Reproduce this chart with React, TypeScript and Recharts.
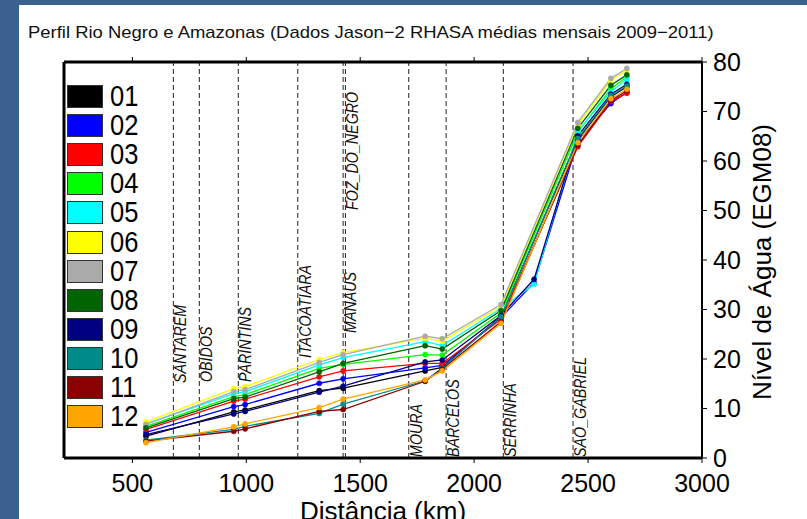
import { LineChart, Line, XAxis, YAxis, ReferenceLine } from "recharts";

// distance along the river (km) where the altimetry stations sit
const distances = [560, 945, 995, 1320, 1425, 1785, 1860, 2118, 2263, 2455, 2600, 2670];

const months = ["01", "02", "03", "04", "05", "06", "07", "08", "09", "10", "11", "12"];
const colors = [
  "#000000", "#0000ff", "#ff0000", "#00ff00", "#00ffff", "#ffff00",
  "#aaaaaa", "#006400", "#000080", "#008b8b", "#8b0000", "#ffa500",
];

// monthly mean water level (m, EGM08); null = no station value
const m01 = [4.4, 9.3, 9.7, 13.6, 14.1, 17.6, 18.3, 28.6, null, 64.3, 73.0, 75.0];
const m02 = [5.2, 10.4, 10.8, 15.1, 16.0, 18.2, 18.7, 28.4, 35.4, 64.0, 71.6, 73.9];
const m03 = [5.8, 11.5, 11.9, 16.4, 17.6, 19.1, 19.1, 28.0, null, 62.9, 72.0, 73.7];
const m04 = [6.4, 12.4, 12.8, 18.1, 18.9, 20.9, 20.8, 29.3, null, 65.8, 74.6, 77.0];
const m05 = [6.9, 13.0, 13.4, 18.8, 20.3, 23.5, 22.7, 30.2, 35.1, 66.0, 74.0, 76.5];
const m06 = [7.3, 14.0, 14.4, 19.9, 21.3, 24.2, 23.6, 30.6, null, 67.3, 76.3, 78.3];
const m07 = [6.8, 13.4, 13.8, 19.3, 20.9, 24.6, 24.1, 31.0, null, 67.8, 76.7, 78.7];
const m08 = [6.1, 12.0, 12.3, 17.4, 19.1, 22.7, 22.0, 29.8, null, 66.6, 75.3, 77.4];
const m09 = [4.7, 8.9, 9.4, 13.3, 14.5, 19.4, 19.8, 28.8, 36.1, 65.1, 73.5, 75.5];
const m10 = [3.6, 5.8, 6.4, 9.0, 10.9, 15.6, 18.2, 28.5, null, 64.6, 73.2, 75.2];
const m11 = [3.4, 5.4, 5.9, 9.4, 9.8, 15.5, 18.0, 27.5, null, 63.2, 72.2, 74.2];
const m12 = [3.1, 6.3, 6.9, 10.2, 11.9, 15.8, 17.6, 27.2, null, 63.7, 72.6, 74.5];
const levels = [m01, m02, m03, m04, m05, m06, m07, m08, m09, m10, m11, m12];

const cities = ["SANTAREM", "OBIDOS", "PARINTINS", "ITACOATIARA", "MANAUS", "FOZ_DO_NEGRO", "MOURA", "BARCELOS", "SERRINHA", "SAO_GABRIEL"];
const cityKm = [680, 794, 965, 1226, 1425, 1435, 1713, 1877, 2128, 2434];
// how far above the x axis each rotated name starts (px)
const cityLift = [75, 76, 76, 100, 125, 248, 1, 1, 1, 1];

const xTicks = [500, 1000, 1500, 2000, 2500, 3000];
const yTicks = [0, 10, 20, 30, 40, 50, 60, 70, 80];

const data = distances.map((km, i) => {
  const row: Record<string, number | null> = { km };
  months.forEach((m, j) => (row[m] = levels[j][i]));
  return row;
});

const sans = "'Liberation Sans', Arial, sans-serif";

function CityLabel(props: any) {
  const { viewBox, name, lift } = props;
  const x = viewBox.x + 13;
  const y = viewBox.y + viewBox.height - lift;
  return (
    <text
      x={0}
      y={0}
      transform={`translate(${x} ${y}) rotate(-90) scale(0.84 1)`}
      fontSize={17}
      fontStyle="italic"
      fontFamily={sans}
      fill="#111"
    >
      {name}
    </text>
  );
}

const noTick = () => <g />;

export default function App() {
  return (
    <div style={{ position: "fixed", left: 0, top: 0, width: 807, height: 519, background: "#3a6190", overflow: "hidden" }}>
      <div style={{ position: "absolute", left: 19, top: 5, width: 788, height: 514, background: "#fff" }} />
      <div
        style={{
          position: "absolute", left: 28, top: 23, fontFamily: sans, fontSize: 17, color: "#111",
          whiteSpace: "nowrap", transform: "scaleX(1.085)", transformOrigin: "left top",
        }}
      >
        Perfil Rio Negro e Amazonas (Dados Jason−2 RHASA médias mensais 2009−2011)
      </div>
      <div style={{ position: "absolute", left: 0, top: 0 }}>
        <LineChart width={807} height={519} data={data} margin={{ top: 57, right: 15, bottom: 16, left: 59 }}>
          <XAxis
            xAxisId="b" dataKey="km" type="number" domain={[200, 3000]} ticks={xTicks}
            height={45} tickSize={5} tickMargin={11}
            axisLine={{ stroke: "#000", strokeWidth: 3 }} tickLine={{ stroke: "#000" }}
            tick={{ fontSize: 25, fill: "#000", fontFamily: sans }} interval={0}
          />
          <XAxis
            xAxisId="t" dataKey="km" type="number" domain={[200, 3000]} ticks={xTicks}
            orientation="top" height={5} tickSize={5}
            axisLine={{ stroke: "#000", strokeWidth: 3 }} tickLine={{ stroke: "#000" }} tick={noTick}
          />
          <YAxis
            yAxisId="r" orientation="right" domain={[0, 80]} ticks={yTicks} width={90}
            tickSize={5} tickMargin={6} interval={0}
            axisLine={{ stroke: "#000", strokeWidth: 2 }} tickLine={{ stroke: "#000" }}
            tick={{ fontSize: 25, fill: "#000", fontFamily: sans, textAnchor: "start" }}
          />
          <YAxis
            yAxisId="l" orientation="left" domain={[0, 80]} ticks={yTicks} width={5} tickSize={5}
            axisLine={{ stroke: "#000", strokeWidth: 3 }} tickLine={{ stroke: "#000" }} tick={noTick}
          />
          {cities.map((c, i) => (
            <ReferenceLine
              key={c} xAxisId="b" yAxisId="r" x={cityKm[i]}
              stroke="#222" strokeWidth={1} strokeDasharray="5 3"
              label={<CityLabel name={c} lift={cityLift[i]} />}
            />
          ))}
          {months.map((m, i) => (
            <Line
              key={m} xAxisId="b" yAxisId="r" dataKey={m} stroke={colors[i]} strokeWidth={1.3}
              dot={{ r: 2.6, fill: colors[i], stroke: colors[i], strokeWidth: 0.5 }}
              activeDot={false} connectNulls isAnimationActive={false}
            />
          ))}
        </LineChart>
      </div>
      {months.map((m, i) => (
        <div key={m} style={{ position: "absolute", left: 67, top: 85 + i * 29.1, height: 23, display: "flex", alignItems: "center" }}>
          <div style={{ width: 34, height: 21, background: colors[i], border: "1px solid #333" }} />
          <span
            style={{
              display: "inline-block", marginLeft: 7, fontFamily: sans, fontSize: 29, color: "#000",
              lineHeight: "23px", transform: "scaleX(0.88)", transformOrigin: "left center",
            }}
          >
            {m}
          </span>
        </div>
      ))}
      <div
        style={{
          position: "absolute", left: 383, top: 498, transform: "translateX(-50%)",
          fontFamily: sans, fontSize: 26, color: "#000", whiteSpace: "nowrap", lineHeight: "26px",
        }}
      >
        Distância (km)
      </div>
      <div
        style={{
          position: "absolute", left: 762, top: 262, transform: "translate(-50%, -50%) rotate(-90deg)",
          fontFamily: sans, fontSize: 26, color: "#000", whiteSpace: "nowrap", lineHeight: "26px",
        }}
      >
        Nível de Água (EGM08)
      </div>
    </div>
  );
}
